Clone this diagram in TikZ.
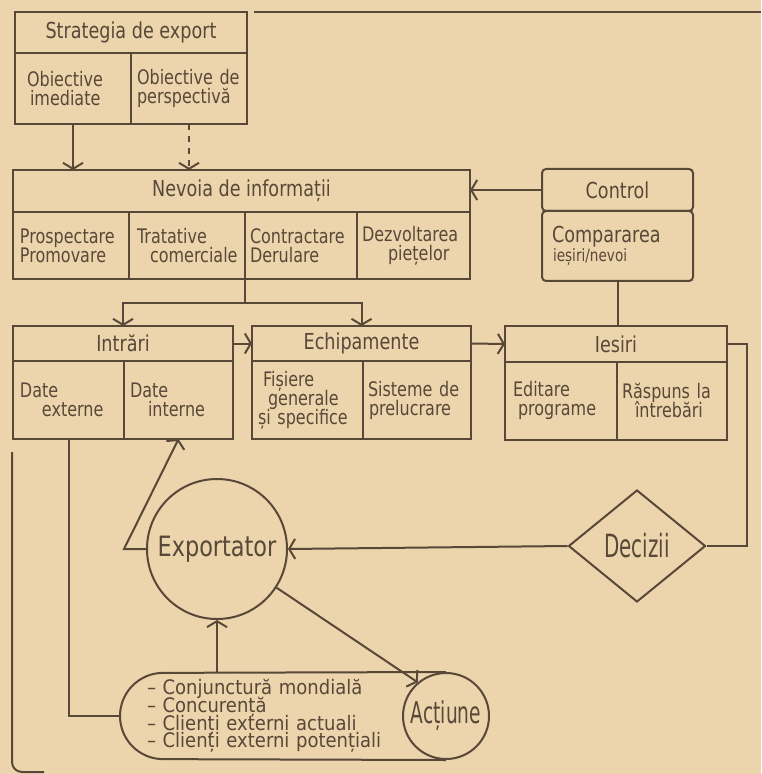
\documentclass[tikz,border=0pt]{standalone}
\usepackage{fontspec}
\setmainfont{DejaVu Sans}[FakeStretch=0.8]
\newfontfamily\narrowfont{DejaVu Sans}[FakeStretch=0.62]
\newfontfamily\listfont{DejaVu Sans}[FakeStretch=0.9]
\usetikzlibrary{shapes.geometric, arrows.meta, positioning}
\newcommand\tightlines{\lineskiplimit=-10pt\relax}
\definecolor{paper}{RGB}{236,212,172}
\definecolor{ink}{RGB}{88,72,56}
\tikzstyle{header} = [rectangle, draw=ink, text=ink, outer sep=0pt, inner sep=0pt,
    font=\fontsize{11}{11}\selectfont]
\tikzstyle{cell} = [rectangle, draw=ink, text=ink, outer sep=0pt, inner xsep=2pt,
    inner ysep=0pt, align=left, font=\fontsize{10}{9.5}\selectfont\tightlines]
\tikzstyle{circ} = [circle, draw=ink, text=ink, inner sep=0pt]
\tikzstyle{decision} = [diamond, draw=ink, text=ink, inner sep=0pt,
    minimum width=68.5pt, minimum height=56pt, font=\narrowfont\fontsize{16}{16}\selectfont]
\tikzstyle{pill} = [rectangle, text=ink, outer sep=0pt,
    minimum height=43pt, inner xsep=13.5pt, inner ysep=0pt, text width=157.5pt,
    align=left, font=\listfont\fontsize{10}{8.85}\selectfont\tightlines]
\tikzstyle{line} = [draw=ink, line width=1pt, -{Straight Barb[length=3pt,width=10pt]}]
\tikzstyle{wire} = [draw=ink, line width=1pt]

\begin{document}
\begin{tikzpicture}[x=0.5pt, y=-0.5pt, line width=1pt]
            % Paper and frame
            \fill [paper] (0,0) rectangle (761,774);
            \useasboundingbox (0,0) rectangle (761,774);
            \draw [ink] (254,12) -- (761,12);
            \draw [ink, rounded corners=5pt] (12,452) |- (44,772);
            % Place nodes
            \node [header, minimum width=116pt, minimum height=20.5pt] (strat) at (131,32.5) {Strategia de export};
            \node [cell, text width=54pt, minimum height=35.5pt, anchor=north west] (obimed) at (strat.south west) {\hspace*{4pt}Obiective\\\hspace*{5.5pt}imediate};
            \node [cell, text width=54pt, minimum height=35.5pt, right=0pt of obimed] (obpersp) {\hspace*{1pt}Obiective de\\\hspace*{1pt}perspectivă};
            \node [header, minimum width=228.5pt, minimum height=21pt] (nevoia) at (241.5,191) {Nevoia de informații};
            \node [cell, text width=54pt, minimum height=33.5pt, anchor=north west] (prosp) at (nevoia.south west) {\hspace*{1.5pt}Prospectare\\\hspace*{1.5pt}Promovare};
            \node [cell, text width=54pt, minimum height=33.5pt, right=0pt of prosp] (tratat) {\hspace*{2pt}Tratative\\\hspace*{8.5pt}comerciale};
            \node [cell, text width=52pt, minimum height=33.5pt, right=0pt of tratat] (contract) {\hspace*{0.5pt}Contractare\\\hspace*{0.5pt}Derulare};
            \node [cell, text width=52.5pt, minimum height=33.5pt, right=0pt of contract] (dezvolt) {\hspace*{0.5pt}Dezvoltarea\\\hspace*{13.5pt}piețelor};
            \node [header, minimum width=75.5pt, minimum height=21pt, rounded corners=2pt] (control) at (617.5,190) {Control};
            \node [cell, text width=71.5pt, minimum height=35pt, rounded corners=2pt, anchor=north west] (compar) at (control.south west) {\hspace*{3pt}{\fontsize{11}{11}\selectfont Compararea}\\\hspace*{3.5pt}{\fontsize{8.5}{9}\selectfont ieșiri/nevoi}};
            \node [header, minimum width=110pt, minimum height=17.5pt] (intrari) at (123,343.5) {Intrări};
            \node [cell, text width=51.5pt, minimum height=39pt, anchor=north west] (datext) at (intrari.south west) {\hspace*{1.5pt}Date\\\hspace*{12.5pt}externe};
            \node [cell, text width=50.5pt, minimum height=39pt, right=0pt of datext] (datint) {\hspace*{1pt}Date\\\hspace*{10pt}interne};
            \node [header, minimum width=109.5pt, minimum height=17.5pt] (echip) at (361.5,343.5) {Echipamente};
            \node [cell, text width=51.5pt, minimum height=39pt, anchor=north west] (fisiere) at (echip.south west) {\hspace*{3.5pt}Fișiere\\\hspace*{6pt}generale\\\hspace*{1pt}și specifice};
            \node [cell, text width=50pt, minimum height=39pt, right=0pt of fisiere] (sisteme) {\hspace*{0.5pt}Sisteme de\\\hspace*{1pt}prelucrare};
            \node [header, minimum width=111pt, minimum height=17.5pt] (iesiri) at (616,344) {Iesiri};
            \node [cell, text width=52pt, minimum height=39pt, anchor=north west] (editare) at (iesiri.south west) {\hspace*{2pt}Editare\\\hspace*{4.5pt}programe};
            \node [cell, text width=51pt, minimum height=39pt, right=0pt of editare] (raspuns) {\hspace*{0.5pt}Răspuns la\\\hspace*{7pt}întrebări};
            \node [circ, minimum size=70pt, font=\fontsize{14}{14}\selectfont] (export) at (217,549) {Exportator};
            \node [decision] (decizii) at (637,546) {Decizii};
            \node [pill] (conj) at (304.5,716) {– Conjunctură mondială\\– Concurență\\– Clienți externi actuali\\– Clienți externi potențiali};
            \node [circ, minimum size=43pt, font=\narrowfont\fontsize{15}{15}\selectfont] (actiune) at (446,716) {Acțiune};
            % Pill outline closed by the Actiune circle
            \draw [ink, rounded corners=21.5pt] (actiune.north) -- (conj.north west) -- (conj.south west) -- (actiune.south);
            % Draw edges
            \path [line] (obimed.south) -- (obimed.south |- nevoia.north);
            \path [line, dashed] (obpersp.south) -- (obpersp.south |- nevoia.north);
            \path [line] (control.west) -- (control.west -| nevoia.east);
            \path [wire] (compar.south) -- (compar.south |- iesiri.north);
            \coordinate (split) at ([yshift=-12pt]contract.south west);
            \path [wire] (contract.south west) -- (split);
            \path [line] (split) -| (intrari.north);
            \path [line] (split) -| (echip.north);
            \path [line] (intrari.east) -- (echip.west);
            \path [line] (echip.east) -- (iesiri.west);
            \path [wire] (iesiri.east) -- ++(10pt,0) |- (decizii.east);
            \path [line] (decizii.west) -- (export.east);
            \path [line] (export.west) -- ++(-11pt,0) -- (datint.south);
            \path [line] (export.south |- conj.north) -- (export.south);
            \path [line] (export.-33) -- (actiune.130);
            \path [wire] (datext.south) |- (conj.west);
        \end{tikzpicture}
\end{document}
